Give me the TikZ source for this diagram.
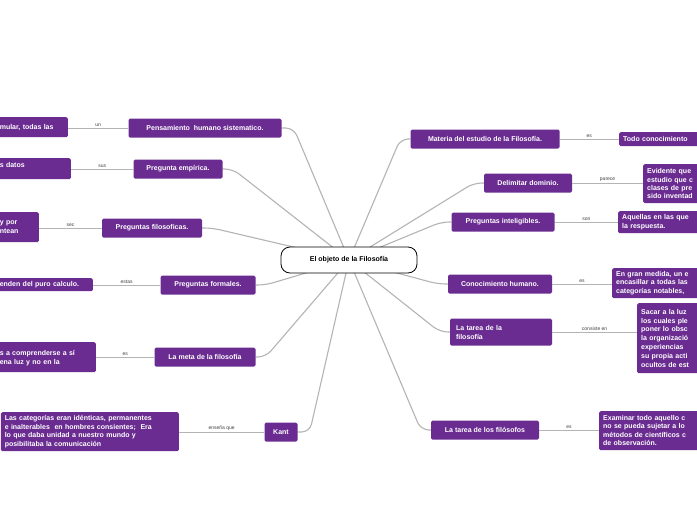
\documentclass[tikz,border=0pt]{standalone}
\usepackage{fontspec}
\setmainfont{Liberation Sans}
\usetikzlibrary{backgrounds}
\definecolor{pur}{HTML}{6A2C91}
\definecolor{ln}{HTML}{B4B4B4}
\begin{document}
\begin{tikzpicture}[x=1pt,y=-1pt,
 box/.style={fill=pur,text=white,font=\bfseries\fontsize{7}{9}\selectfont,rounded corners=1.5pt,inner xsep=4pt,inner ysep=3pt,align=left},
 mid/.style={box,minimum height=19pt},
 lab/.style={font=\fontsize{5}{6}\selectfont,text=black!75,above,inner sep=1pt},
 con/.style={draw=ln,line width=1.1pt},
 sub/.style={draw=ln,line width=1pt}]
\useasboundingbox (0,0) rectangle (697,520);
\clip (0,0) rectangle (697,520);
% center
\node[draw=black,line width=0.8pt,rounded corners=9pt,fill=white,minimum width=136pt,minimum height=26pt,font=\bfseries\fontsize{7}{9}\selectfont] (c) at (349,260) {El objeto de la Filosofía};
% left mid nodes
\node[mid,minimum width=153pt] (pen) at (205,128) {Pensamiento\ \ humano sistematico.};
\node[mid,minimum width=89pt] (emp) at (178,169) {Pregunta empírica.};
\node[mid,minimum width=100pt] (fil) at (152,228) {Preguntas filosoficas.};
\node[mid,minimum width=95pt] (for) at (208,285) {Preguntas formales.};
\node[mid,minimum width=101pt] (met) at (205,357) {La meta de la filosofía};
\node[mid,minimum width=33pt] (kan) at (281,432) {Kant};
% left leaves
\node[box,anchor=north east,text width=64pt,minimum height=20pt] (l1) at (68,117) {mular, todas las};
\node[box,anchor=north east,text width=67pt,minimum height=21pt,text depth=7pt] (l2) at (71,158) {s datos};
\node[box,anchor=north east,text width=35pt,minimum height=30pt] (l3) at (39,212) {y por\\ntean};
\node[box,anchor=north east,text width=89pt,minimum height=13pt,inner ysep=2pt] (l4) at (93,278) {enden del puro calculo.};
\node[box,anchor=north east,text width=92pt,minimum height=30pt,text depth=9pt] (l5) at (96,342) {s a comprenderse a sí\\ena luz y no en la};
\node[box,anchor=north east,text width=170pt,minimum height=39pt,inner ysep=2pt,font=\bfseries\fontsize{7}{8.5}\selectfont] (l6) at (179,412) {Las categorías eran idénticas, permanentes\\e inalterables\ \ en hombres consientes;\ \ Era\\lo que daba unidad a nuestro mundo y\\posibilitaba la comunicación};
% right mid nodes
\node[mid,minimum width=149pt] (mat) at (485,139) {Materia del estudio de la Filosofía.};
\node[mid,minimum width=88pt] (del) at (528,183) {Delimitar dominio.};
\node[mid,minimum width=103pt] (int) at (503,222) {Preguntas inteligibles.};
\node[mid,minimum width=104pt] (con) at (500,284) {Conocimiento humano.};
\node[box,minimum width=102pt,minimum height=27pt,text width=90pt] (tar) at (501,332) {La tarea de la\\filosofía};
\node[mid,minimum width=108pt] (taf) at (485,430) {La tarea de los filósofos};
% right leaves
\node[box,anchor=north west,text width=120pt,minimum height=14pt,inner ysep=2pt] (r1) at (619,132) {Todo conocimiento};
\node[box,anchor=north west,text width=120pt,minimum height=39pt,inner ysep=2pt,font=\bfseries\fontsize{7}{8.3}\selectfont] (r2) at (643,164) {Evidente que\\estudio que c\\clases de pre\\sido inventad};
\node[box,anchor=north west,text width=120pt,minimum height=22pt,inner ysep=2pt] (r3) at (618,211) {Aquellas en las que\\la respuesta.};
\node[box,anchor=north west,text width=120pt,minimum height=30pt,inner ysep=2pt,font=\bfseries\fontsize{7}{8.5}\selectfont] (r4) at (612,268) {En gran medida, un e\\encasillar a todas las\\categorías notables,};
\node[box,anchor=north west,text width=120pt,minimum height=70pt,inner ysep=3pt,font=\bfseries\fontsize{7}{8.8}\selectfont] (r5) at (637,303) {Sacar a la luz\\los cuales ple\\poner lo obsc\\la organizació\\experiencias\\su propia acti\\ocultos de est};
\node[box,anchor=north west,text width=120pt,minimum height=39pt,inner ysep=2pt,font=\bfseries\fontsize{7}{8.5}\selectfont] (r6) at (599,411) {Examinar todo aquello c\\no se pueda sujetar a lo\\métodos de científicos c\\de observación.};
\begin{scope}[on background layer]
\fill[white] (0,0) rectangle (697,520);
\draw[con,rounded corners=8pt] (pen.east) -- ++(12,0) -- (c.center);
\draw[con,rounded corners=8pt] (emp.east) -- ++(10,0) -- (c.center);
\draw[con,rounded corners=8pt] (fil.east) -- ++(10,0) -- (c.center);
\draw[con,rounded corners=8pt] (for.east) -- ++(10,0) -- (c.center);
\draw[con,rounded corners=8pt] (met.east) -- ++(10,0) -- (c.center);
\draw[con,rounded corners=8pt] (kan.east) -- ++(12,0) -- (c.center);
\draw[con,rounded corners=8pt] (mat.west) -- ++(-10,0) -- (c.center);
\draw[con,rounded corners=8pt] (del.west) -- ++(-10,0) -- (c.center);
\draw[con,rounded corners=8pt] (int.west) -- ++(-10,0) -- (c.center);
\draw[con,rounded corners=8pt] (con.west) -- ++(-10,0) -- (c.center);
\draw[con,rounded corners=8pt] (tar.west) -- ++(-10,0) -- (c.center);
\draw[con,rounded corners=8pt] (taf.west) -- ++(-10,0) -- (c.center);
\end{scope}
\draw[sub] (pen.west) -- node[lab]{un} (l1.east |- pen.west);
\draw[sub] (emp.west) -- node[lab]{sus} (l2.east |- emp.west);
\draw[sub] (fil.west) -- node[lab]{sec} (l3.east |- fil.west);
\draw[sub] (for.west) -- node[lab]{estas} (l4.east |- for.west);
\draw[sub] (met.west) -- node[lab]{es} (l5.east |- met.west);
\draw[sub] (kan.west) -- node[lab]{enseña que} (l6.east |- kan.west);
\draw[sub] (mat.east) -- node[lab]{es} (r1.west |- mat.east);
\draw[sub] (del.east) -- node[lab]{parece} (r2.west |- del.east);
\draw[sub] (int.east) -- node[lab]{son} (r3.west |- int.east);
\draw[sub] (con.east) -- node[lab]{es} (r4.west |- con.east);
\draw[sub] (tar.east) -- node[lab]{consiste en} (r5.west |- tar.east);
\draw[sub] (taf.east) -- node[lab]{es} (r6.west |- taf.east);
\end{tikzpicture}
\end{document}
